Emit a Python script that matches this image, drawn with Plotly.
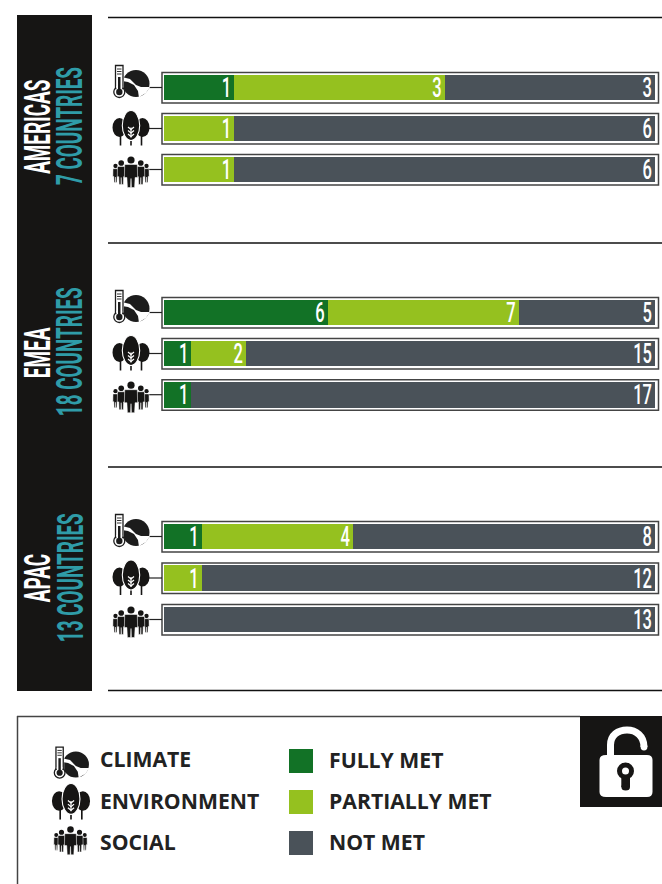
import plotly.graph_objects as go

W, H = 662, 884

regions = ["AMERICAS", "EMEA", "APAC"]
country_labels = ["7 COUNTRIES", "18 COUNTRIES", "13 COUNTRIES"]
pillars = ["CLIMATE", "ENVIRONMENT", "SOCIAL"]
statuses = ["FULLY MET", "PARTIALLY MET", "NOT MET"]
fully_met = [[1, 0, 0], [6, 1, 1], [1, 0, 0]]
partially_met = [[3, 1, 1], [7, 2, 0], [4, 1, 0]]
not_met = [[3, 6, 6], [5, 15, 17], [8, 12, 13]]
country_totals = [7, 18, 13]

GREEN, LIME, SLATE = "#127226", "#95C11F", "#4A5259"
BLACK, TEAL, FRAME, INK = "#161514", "#2F9CA8", "#444444", "#222222"
CONDENSED, OPEN = "Roboto", "Open Sans"


def px(x):
    return x / W


def py(y):
    return 1 - y / H


def rect(x0, y0, x1, y1, fill=None, line=None, lw=0):
    return dict(type="rect", xref="paper", yref="paper", x0=px(x0), x1=px(x1), y0=py(y0), y1=py(y1),
                fillcolor=fill or "rgba(0,0,0,0)", line=dict(color=line or "rgba(0,0,0,0)", width=lw),
                layer="above")


def seg(x0, y0, x1, y1, color=FRAME, lw=1.5):
    return dict(type="line", xref="paper", yref="paper", x0=px(x0), x1=px(x1), y0=py(y0), y1=py(y1),
                line=dict(color=color, width=lw), layer="above")


def oval(cx, cy, rx, ry, fill=BLACK, line=None, lw=0):
    return dict(type="circle", xref="paper", yref="paper", x0=px(cx - rx), x1=px(cx + rx),
                y0=py(cy - ry), y1=py(cy + ry), fillcolor=fill,
                line=dict(color=line or "rgba(0,0,0,0)", width=lw), layer="above")


def poly(points, fill=BLACK, line=None, lw=0, close=True):
    d = "M " + " L ".join(f"{px(x):.5f},{py(y):.5f}" for x, y in points) + (" Z" if close else "")
    return dict(type="path", xref="paper", yref="paper", path=d,
                fillcolor=fill if close else "rgba(0,0,0,0)",
                line=dict(color=line or "rgba(0,0,0,0)", width=lw), layer="above")


def curve(cmds, fill=None, line=None, lw=0):
    parts = []
    for cmd, pts in cmds:
        parts.append(cmd + " " + " ".join(f"{px(x):.5f},{py(y):.5f}" for x, y in pts))
    d = " ".join(parts) + (" Z" if fill else "")
    return dict(type="path", xref="paper", yref="paper", path=d, fillcolor=fill or "rgba(0,0,0,0)",
                line=dict(color=line or "rgba(0,0,0,0)", width=lw), layer="above")


def climate_icon(cx, cy, s=1.0):
    X = lambda u: cx + u * s
    Y = lambda v: cy + v * s
    dark = "#1c1c1c"
    out = [oval(X(5), Y(0.5), 13.5 * s, 13.5 * s, fill=dark)]
    band = [(-9, -6), (-1, -4), (5, 2), (10, 4), (19, 4), (15, 10), (10, 13), (8, 15), (7, 8), (3, 2), (-3, -1), (-9, -2)]
    out.append(poly([(X(u), Y(v)) for u, v in band], fill="white"))
    out.append(rect(X(-8), Y(-14), X(-7), Y(16), fill="white"))
    out.append(oval(X(-11.7), Y(9), 5.5 * s, 5.5 * s, fill="white", line=dark, lw=1.3))
    out.append(rect(X(-15.5), Y(-17.5), X(-8), Y(5.5), fill="white", line=dark, lw=1.3))
    out.append(rect(X(-14.6), Y(3), X(-8.9), Y(9), fill="white"))
    out.append(rect(X(-13), Y(-6), X(-10.5), Y(9), fill=dark))
    out.append(oval(X(-11.7), Y(9), 3.2 * s, 3.2 * s, fill=dark))
    for v in (-14, -11.5, -9):
        out.append(seg(X(-14), Y(v), X(-9.5), Y(v), color=dark, lw=0.9))
    return out


def tree_icon(cx, cy, s=1.0):
    X = lambda u: cx + u * s
    Y = lambda v: cy + v * s
    out = []
    for u in (-10.5, 0, 10.5):
        out.append(seg(X(u), Y(2), X(u), Y(18), color=BLACK, lw=1.6 * s))
    out.append(oval(X(-11.5), Y(0), 7 * s, 9.5 * s))
    out.append(oval(X(11.5), Y(0), 7 * s, 9.5 * s))
    out.append(oval(X(0), Y(-2), 8.7 * s, 15 * s, fill=BLACK, line="white", lw=1.1))
    out.append(seg(X(0), Y(0), X(0), Y(10), color="white", lw=1.2))
    for v in (2, 5.5, 9):
        out.append(poly([(X(-3), Y(v - 2.5)), (X(0), Y(v)), (X(3), Y(v - 2.5))], line="white", lw=1.2, close=False))
    return out


def person(cx, top, s, kx, ky):
    X = lambda u: cx + u * s * kx
    Y = lambda v: top + v * s * ky
    out = [oval(cx, Y(3.5), 3.6 * s * ky, 3.6 * s * ky)]
    body = [(-6, 8), (6, 8), (6.3, 21), (3.9, 21), (3.4, 31), (0.4, 31), (0, 22), (-0.4, 31), (-3.4, 31),
            (-3.9, 21), (-6.3, 21)]
    out.append(poly([(X(u), Y(v)) for u, v in body], line="white", lw=0.5))
    return out


def people_icon(cx, cy, s=1.0):
    out = []
    for u, top, kx, ky in ((-15.5, 7.4, 0.42, 0.6), (15.5, 7.4, 0.42, 0.6), (-9.8, 3.8, 0.62, 0.78),
                           (9.8, 3.8, 0.62, 0.78), (0, 0, 1.05, 1.0)):
        out += person(cx + u * s, cy - 16 * s + top * s, s, kx, ky)
    return out


def lock_icon():
    body = [("M", [(606, 755)]), ("L", [(647, 755)]), ("Q", [(652.5, 755), (652.5, 760)]), ("L", [(652.5, 792)]),
            ("Q", [(652.5, 797), (647, 797)]), ("L", [(606, 797)]), ("Q", [(599.5, 797), (599.5, 792)]),
            ("L", [(599.5, 760)]), ("Q", [(599.5, 755), (606, 755)])]
    shackle = [("M", [(610.5, 756)]), ("L", [(610.5, 745)]), ("C", [(610.5, 735), (618, 730), (627, 730)]),
               ("C", [(636, 730), (644, 736), (644, 747)])]
    return [
        curve(shackle, line="white", lw=7),
        oval(644, 747, 3.4, 3.4, fill="white"),
        curve(body, fill="white"),
        oval(625.5, 771, 8.5, 8.5, fill=BLACK),
        rect(621.3, 773, 630, 787, fill=BLACK),
        oval(625.7, 787, 4.3, 3.5, fill=BLACK),
        oval(625.5, 771, 3.5, 3.5, fill="white"),
    ]


row_centres = [[87.5, 128.5, 169.5], [312.5, 353.5, 394.7], [536.5, 578, 619.5]]
rule_ys = [17.5, 243, 467, 690.5]
heading_y = [127.5, 353, 578]
count_y = [126.5, 351.5, 577.5]
pitch = 41.3
bar_left, bar_right = 164, 655

fig = go.Figure()
layout = {}
shapes = [rect(17, 15, 92, 691, fill=BLACK)]
annotations = []

for r, region in enumerate(regions):
    suffix = "" if r == 0 else str(r + 1)
    xname, yname = f"x{suffix}", f"y{suffix}"
    for label, values, colour in zip(statuses, (fully_met[r], partially_met[r], not_met[r]), (GREEN, LIME, SLATE)):
        fig.add_trace(go.Bar(
            name=label, y=pillars, x=values, orientation="h", xaxis=xname, yaxis=yname,
            marker=dict(color=colour, line=dict(width=0)),
            text=[str(v) if v else "" for v in values], textposition="inside", insidetextanchor="end",
            textangle=0, constraintext="none", cliponaxis=False,
            textfont=dict(family=CONDENSED, size=28.5, color="white", weight=500), showlegend=False,
            hovertemplate="%{y}: %{x}<extra>" + label + "</extra>",
        ))
    c = row_centres[r]
    layout[f"xaxis{suffix}"] = dict(domain=[px(bar_left), px(bar_right)], range=[0, country_totals[r]],
                                    visible=False, anchor=yname)
    layout[f"yaxis{suffix}"] = dict(domain=[py(c[2] + pitch / 2), py(c[0] - pitch / 2)], range=[2.5, -0.5],
                                    type="category", categoryorder="array", categoryarray=pillars,
                                    visible=False, anchor=xname)
    for cy in c:
        shapes.append(rect(162, cy - 15, 658.5, cy + 15.5, line=FRAME, lw=1.5))
        shapes.append(seg(147, cy, 162, cy, color=INK, lw=1.2))
    shapes += climate_icon(131, c[0] - 4.5) + tree_icon(131, c[1] - 1) + people_icon(131, c[2] + 3)
    annotations.append(dict(text=f"<b>{region}</b>", x=px(38), y=py(heading_y[r]), xref="paper", yref="paper",
                            textangle=-90, showarrow=False, xanchor="center", yanchor="middle",
                            font=dict(family=CONDENSED, size=36, color="white")))
    annotations.append(dict(text=f"<b>{country_labels[r]}</b>", x=px(70), y=py(count_y[r]), xref="paper", yref="paper",
                            textangle=-90, showarrow=False, xanchor="center", yanchor="middle",
                            font=dict(family=CONDENSED, size=36, color=TEAL)))

for y in rule_ys:
    shapes.append(seg(108, y, 662, y, color="#111111", lw=1.5))

# legend box
shapes += [seg(17, 716.5, 580, 716.5), seg(17.5, 716, 17.5, 884), rect(580, 716, 662, 807, fill=BLACK)]
shapes += lock_icon()

legend_y = [760, 801, 842]
for y, name in zip([758.5, 800, 841.5], pillars):
    annotations.append(dict(text=f"<b>{name}</b>", x=px(98), y=py(y), xref="paper", yref="paper", showarrow=False,
                            xanchor="left", yanchor="middle", font=dict(family=OPEN, size=21.2, color=INK)))
for y, name, colour in zip(legend_y, statuses, (GREEN, LIME, SLATE)):
    shapes.append(rect(289, y - 11, 313, y + 13, fill=colour))
    annotations.append(dict(text=f"<b>{name}</b>", x=px(327), y=py(y - 0.5), xref="paper", yref="paper", showarrow=False,
                            xanchor="left", yanchor="middle", font=dict(family=OPEN, size=21.2, color=INK)))
shapes += climate_icon(71, 764, 0.97) + tree_icon(71, 801, 1.03) + people_icon(70.5, 841, 0.92)

fig.update_layout(
    width=W, height=H, margin=dict(l=0, r=0, t=0, b=0), autosize=False,
    paper_bgcolor="white", plot_bgcolor="rgba(0,0,0,0)", barmode="stack", bargap=0.38,
    shapes=shapes, annotations=annotations, showlegend=False,
    font=dict(family=OPEN), **layout,
)

post = """
document.body.style.margin = '0';
document.body.style.overflow = 'hidden';
document.querySelectorAll('svg text').forEach(function (t) {
  if ((t.style.fontFamily || '').indexOf('Roboto') >= 0 && t.textContent) {
    var isBar = t.classList.contains('bartext');
    var natural = t.getComputedTextLength();
    var condensed = natural * (isBar ? 0.58 : 0.525);
    t.setAttribute('textLength', condensed.toFixed(1));
    t.setAttribute('lengthAdjust', 'spacingAndGlyphs');
    if (isBar) { t.setAttribute('dx', ((natural - condensed) / 2).toFixed(1)); }
  }
});
"""
fig.write_html("out.html", post_script=post, config=dict(displayModeBar=False))
